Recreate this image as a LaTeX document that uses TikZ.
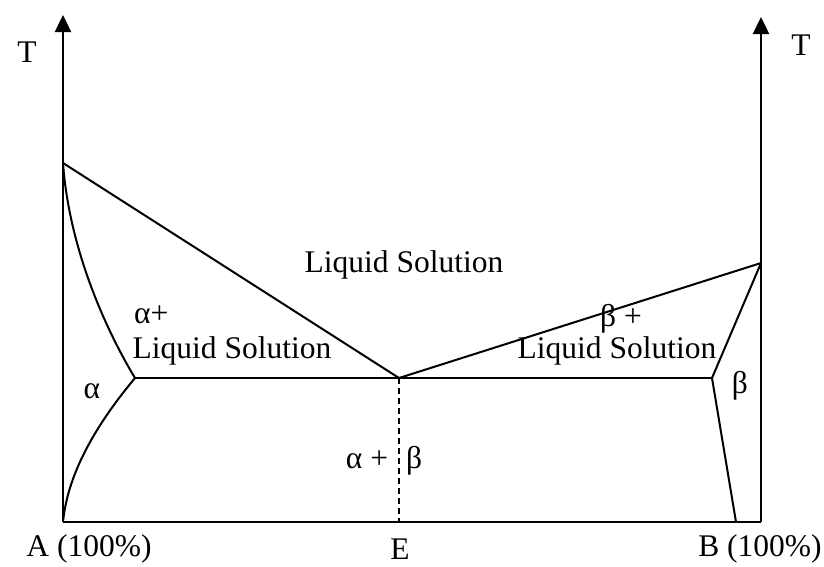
\documentclass[tikz,border=0pt]{standalone}
\usepackage{fontspec}
\setmainfont{Liberation Serif}
\usetikzlibrary{arrows.meta, calc}

\begin{document}
\begin{tikzpicture}[
        x=1pt, y=-1pt,
        phase/.style={font=\fontsize{31.5}{36}\selectfont, inner sep=0pt, align=center},
        axis/.style={line width=2.4pt, -{Triangle[length=17pt, width=16pt]}},
        boundary/.style={line width=2pt},
        eutectic/.style={line width=1.8pt, dashed, dash pattern=on 6pt off 4pt}
    ]
        \useasboundingbox (0,0) rectangle (824,566);

        % --- POINTS ---
        \coordinate (A) at (63,522);
        \coordinate (B) at (761,522);
        \coordinate (Atop) at (63,15);
        \coordinate (Btop) at (761,17);
        \coordinate (Amelt) at (63,163);
        \coordinate (Bmelt) at (761,263);
        \coordinate (E) at (399,378);
        \coordinate (alphaMax) at (135,378);
        \coordinate (betaMax) at (712,378);
        \coordinate (betaLow) at (736,522);

        % --- AXES ---
        \draw[axis] (A) -- (Atop);
        \draw[axis] (B) -- (Btop);
        \draw[boundary] (A) -- (B);

        % --- LIQUIDUS ---
        \draw[boundary] (Amelt) -- (E);
        \draw[boundary] (E) -- (Bmelt);

        % --- SOLIDUS AND SOLVUS ---
        \draw[boundary] (Amelt) .. controls (70,260) and (115,345) .. (alphaMax);
        \draw[boundary] (alphaMax) .. controls (100,420) and (68,470) .. (A);
        \draw[boundary] (Bmelt) -- (betaMax);
        \draw[boundary] (betaMax) -- (betaLow);
        \draw[boundary] (alphaMax) -- (betaMax);
        \draw[eutectic] (E) -- (E |- A);

        % --- LABELS ---
        \node[phase] (tLeft) at (27,52) {T};
        \node[phase] (tRight) at (801,45) {T};
        \node[phase] (liquid) at (404,265) {Liquid Solution};
        \node[phase, anchor=west] (alphaPlus) at (134,315) {α+};
        \node[phase] (alphaLiquid) at (232,351) {Liquid Solution};
        \node[phase, anchor=west] (betaPlus) at (600,319) {β +};
        \node[phase] (betaLiquid) at (617,351) {Liquid Solution};
        \node[phase] (alpha) at (92,391) {α};
        \node[phase] (beta) at (740,386) {β};
        \node[phase] (alphaBeta) at (384,461) {α +\hspace{18pt}β};
        \node[phase] (labelA) at (89,549) {A (100\%)};
        \node[phase] (labelE) at (400,549) {E};
        \node[phase] (labelB) at (760,549) {B (100\%)};
    \end{tikzpicture}
\end{document}
